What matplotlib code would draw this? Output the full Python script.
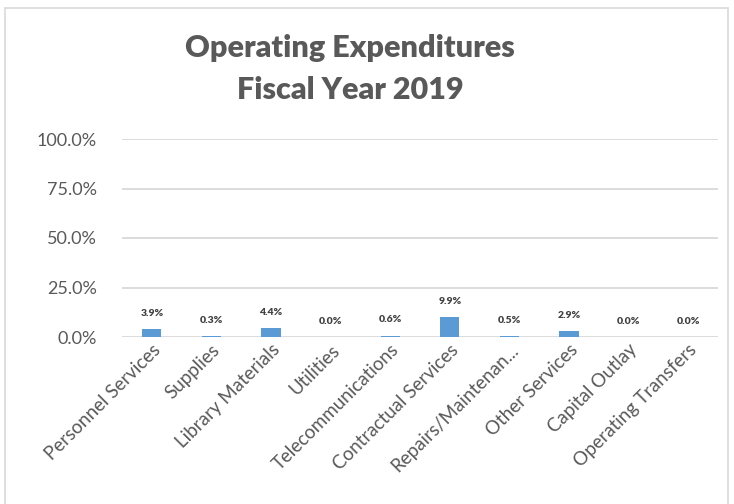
import matplotlib.pyplot as plt
from matplotlib.patches import Rectangle
from matplotlib.ticker import FuncFormatter

categories = ['Personnel Services', 'Supplies', 'Library Materials', 'Utilities',
              'Telecommunications', 'Contractual Services', 'Repairs/Maintenan...',
              'Other Services', 'Capital Outlay', 'Operating Transfers']
values = [3.9, 0.3, 4.4, 0.0, 0.6, 9.9, 0.5, 2.9, 0.0, 0.0]
yticks = [0, 25, 50, 75, 100]

plt.rcParams['font.family'] = ['Lato', 'DejaVu Sans']

fig = plt.figure(figsize=(7.34, 5.04), dpi=100)
fig.patches.append(Rectangle((5 / 734, -0.01), 723 / 734, 1 - 8 / 504 + 0.01,
                             transform=fig.transFigure, fill=False,
                             edgecolor='#D9D9D9', linewidth=1.2))

ax = fig.add_axes([122 / 734, 167 / 504, 596 / 734, 198 / 504])
x = range(len(categories))
ax.bar(x, values, width=0.32, color='#5B9BD5', zorder=3)
for i, v in zip(x, values):
    ax.annotate(f'{v:.1f}%', (i, v), xytext=(0, 11.5), textcoords='offset points',
                ha='center', va='center', fontsize=7.5, fontweight='heavy', color='#404040')

ax.set_xlim(-0.5, len(categories) - 0.5)
ax.set_ylim(0, 100)
ax.set_yticks(yticks)
ax.yaxis.set_major_formatter(FuncFormatter(lambda v, p: f'{v:.1f}%'))
ax.grid(axis='y', color='#D9D9D9', linewidth=1.3, zorder=0)
ax.set_xticks(list(x))
ax.set_xticklabels(categories, rotation=45, ha='right', rotation_mode='anchor')
ax.tick_params(axis='both', length=0, colors='#595959')
ax.tick_params(axis='y', labelsize=13, pad=18)
ax.tick_params(axis='x', labelsize=13.5, pad=3)
for s in ax.spines.values():
    s.set_visible(False)

fig.text(0.477, 1 - 48 / 504, 'Operating Expenditures', ha='center', va='center',
         fontsize=22, fontweight='heavy', color='#595959')
fig.text(0.477, 1 - 90 / 504, 'Fiscal Year 2019', ha='center', va='center',
         fontsize=22, fontweight='heavy', color='#595959')

fig.savefig('out.png', dpi=100)
